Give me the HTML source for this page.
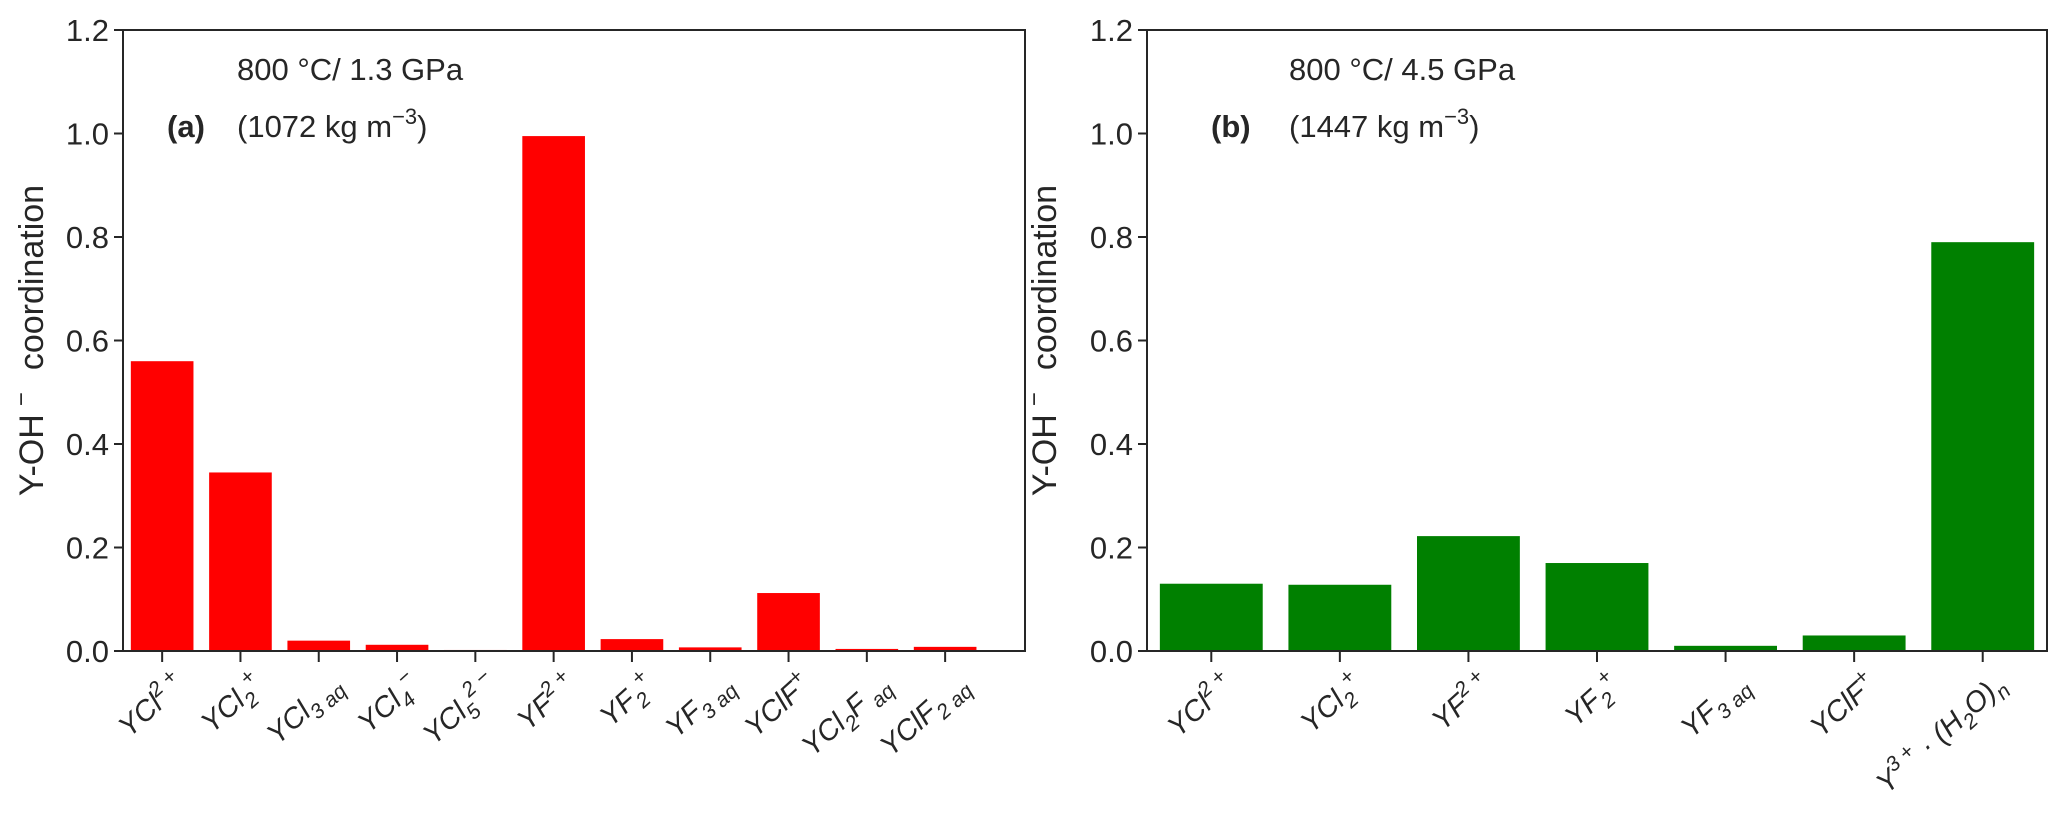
<!DOCTYPE html>
<html><head><meta charset="utf-8"><style>
body{margin:0;background:#fff;}
svg{display:block;font-family:"Liberation Sans",sans-serif;}
</style></head><body>
<svg id="chart" width="2067" height="813" xmlns="http://www.w3.org/2000/svg"></svg>
<script>
const catsA=["YCl^{2 +}","YCl_{2}^{+}","YCl_{3 aq}","YCl_{4}^{−}","YCl_{5}^{2 −}","YF^{2 +}","YF_{2}^{+}","YF_{3 aq}","YClF^{+}","YCl_{2}F_{ aq}","YClF_{2 aq}"];
const valsA=[0.56,0.345,0.02,0.012,0.002,0.995,0.023,0.007,0.112,0.004,0.008];
const catsB=["YCl^{2 +}","YCl_{2}^{+}","YF^{2 +}","YF_{2}^{+}","YF_{3 aq}","YClF^{+}","Y^{3 +} · (H_{2}O)_{n}"];
const valsB=[0.13,0.128,0.222,0.17,0.01,0.03,0.79];
const yTicks=["0.0","0.2","0.4","0.6","0.8","1.0","1.2"];
const yTickVals=[0,0.2,0.4,0.6,0.8,1.0,1.2];

const NS="http://www.w3.org/2000/svg";
const svg=document.getElementById('chart');
function mk(tag,attrs,parent){const e=document.createElementNS(NS,tag);for(const k in attrs)e.setAttribute(k,attrs[k]);(parent||svg).appendChild(e);return e;}

function fillLabel(t,s){
  const re=/(\^\{[^}]*\}|_\{[^}]*\})/g;let parts=s.split(re);let shift=0;
  parts.forEach(p=>{if(!p)return;let dy=0,txt=p,small=false;
    if(p.startsWith('^{')){txt=p.slice(2,-1);dy=-12;small=true;}
    else if(p.startsWith('_{')){txt=p.slice(2,-1);dy=8;small=true;}
    const ts=document.createElementNS(NS,'tspan');
    ts.setAttribute('dy',String(dy-shift));shift=dy;
    if(small)ts.setAttribute('font-size','21');
    ts.textContent=txt;t.appendChild(ts);});
}

function panel(p){
  const g=mk('g',{});
  
  
  const xs=i=>p.x0+(i-p.dmin)/(p.dmax-p.dmin)*(p.x1-p.x0);
  const ys=v=>p.y1-v/1.2*(p.y1-p.y0);
  const bw=xs(0.8)-xs(0);
  p.vals.forEach((v,i)=>{
    const r=mk('rect',{x:xs(i)-bw/2,y:ys(v),width:bw,height:ys(0)-ys(v),fill:p.color},g);
    
    
  });
  mk('rect',{x:p.x0,y:p.y0,width:p.x1-p.x0,height:p.y1-p.y0,fill:'none',stroke:'#262626','stroke-width':2},g);
  yTickVals.forEach((v,i)=>{
    mk('line',{x1:p.x0-9,x2:p.x0,y1:ys(v),y2:ys(v),stroke:'#262626','stroke-width':2},g);
    const t=mk('text',{x:p.x0-14,y:ys(v)+11,'text-anchor':'end','font-size':31,fill:'#262626'},g);
    
    
    t.textContent=yTicks[i];
  });
  p.cats.forEach((c,i)=>{
    const x=xs(i);
    mk('line',{x1:x,x2:x,y1:p.y1,y2:p.y1+11,stroke:'#262626','stroke-width':2},g);
    const t=mk('text',{transform:`translate(${x+24},${p.y1+36}) rotate(-42)`,'text-anchor':'end','font-size':29,'font-style':'italic',fill:'#262626'},g);
    
    
    fillLabel(t,c);
  });
  const yl=mk('text',{transform:`translate(${p.ylx},${(p.y0+p.y1)/2}) rotate(-90)`,'text-anchor':'middle','font-size':34,fill:'#262626'},g);
  
  
  yl.innerHTML='Y-OH<tspan dx="8" dy="-14" font-size="24">−</tspan><tspan dx="22" dy="14">coordination</tspan>';
  const t1=mk('text',{x:p.tx,y:80,'font-size':31,fill:'#262626'},g);
  
  
  t1.textContent=p.t1;
  const t2=mk('text',{x:p.tx,y:137,'font-size':31,fill:'#262626'},g);
  
  
  t2.innerHTML=p.t2+' kg m<tspan dy="-13" font-size="22">−3</tspan><tspan dy="13">)</tspan>';
  const pl=mk('text',{x:p.px,y:137,'font-size':31,'font-weight':'bold',fill:'#262626'},g);
  
  
  pl.textContent=p.letter;
}
panel({name:'panel-a',cats:catsA,vals:valsA,color:'#ff0000',x0:123,x1:1025,y0:30,y1:651,dmin:-0.5,dmax:11.02,ylx:43,tx:237,px:167,t1:'800 °C/ 1.3 GPa',t2:'(1072',letter:'(a)'});
panel({name:'panel-b',cats:catsB,vals:valsB,color:'#008000',x0:1147,x1:2047,y0:30,y1:651,dmin:-0.5,dmax:6.5,ylx:1056,tx:1289,px:1211,t1:'800 °C/ 4.5 GPa',t2:'(1447',letter:'(b)'});
</script>
</body></html>
